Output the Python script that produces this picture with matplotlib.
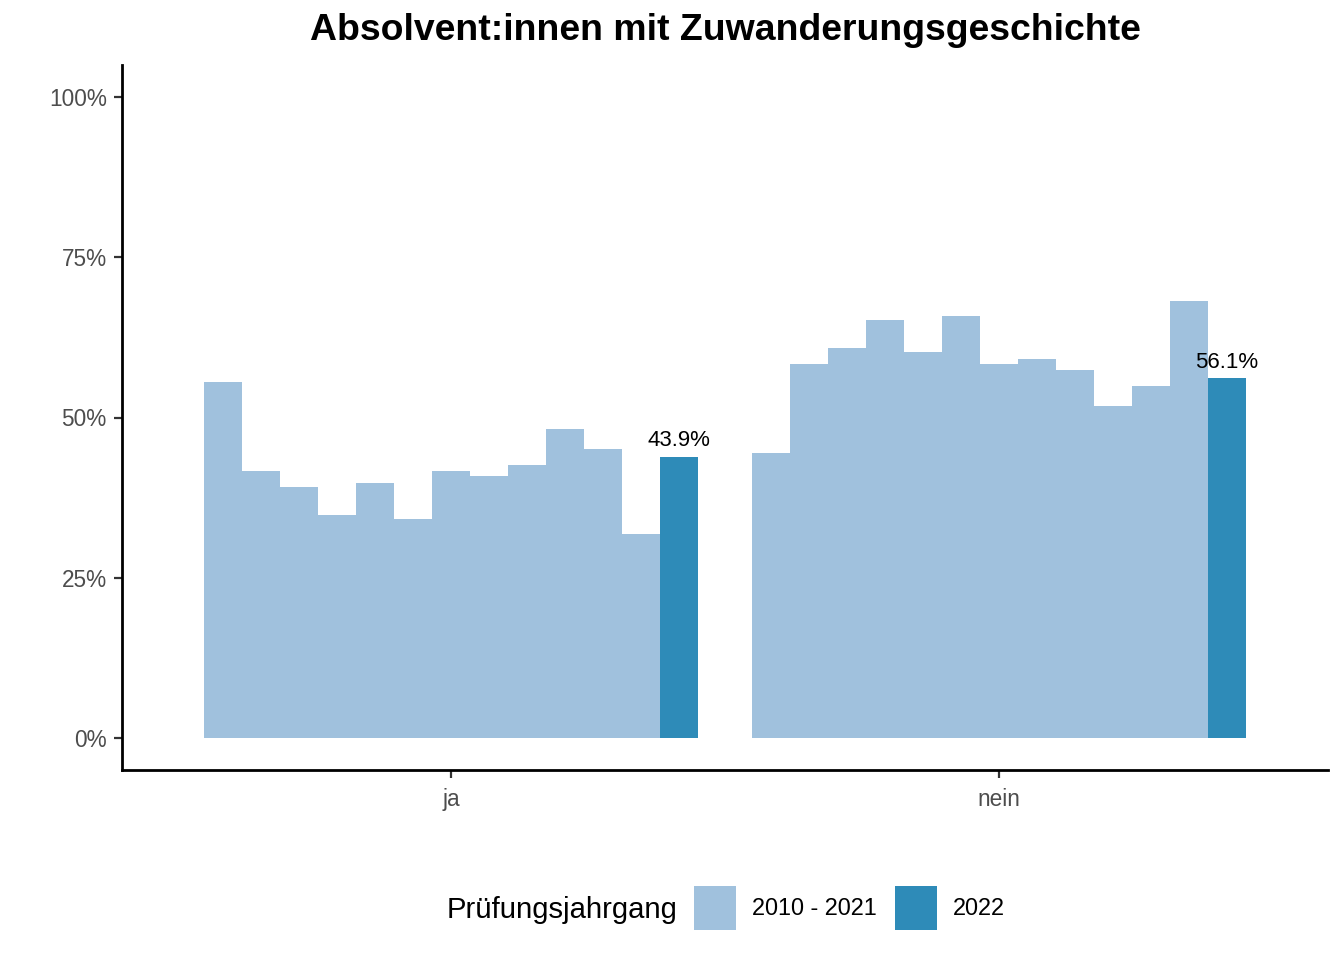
import matplotlib
matplotlib.use("Agg")
import matplotlib.pyplot as plt
from matplotlib.patches import Patch
import numpy as np

plt.rcParams['font.family'] = ['Liberation Sans', 'DejaVu Sans']

categories = ["ja", "nein"]
years = ["2010", "2011", "2012", "2013", "2014", "2015", "2016", "2017",
         "2018", "2019", "2020", "2021", "2022"]
values_ja = [55.6, 41.6, 39.2, 34.8, 39.8, 34.1, 41.7, 40.9, 42.6, 48.2, 45.1, 31.8, 43.9]
values_nein = [44.4, 58.4, 60.8, 65.2, 60.2, 65.9, 58.3, 59.1, 57.4, 51.8, 54.9, 68.2, 56.1]
legend_labels = ["2010 - 2021", "2022"]
ytick_vals = [0, 25, 50, 75, 100]
ytick_labels = ["0%", "25%", "50%", "75%", "100%"]

light = "#A0C1DD"
dark = "#2E8BB8"

fig = plt.figure(figsize=(13.44, 9.6), dpi=100)
ax = fig.add_axes([122/1344, 1-770/960, (1328-122)/1344, (770-65)/960])

n = len(years)
w = 0.9 / n
series = [values_ja, values_nein]
for g, vals in enumerate(series):
    xc = g + 1
    for i, v in enumerate(vals):
        x = xc - 0.45 + w * (i + 0.5)
        col = dark if i == n - 1 else light
        ax.bar(x, v, width=w, color=col, linewidth=0)
        if i == n - 1:
            ax.text(x, v + 0.8, f"{v:.1f}%", ha="center", va="bottom",
                    fontsize=16, color="black")

ax.set_xlim(0.4, 2.6)
ax.set_ylim(-5, 105)
ax.set_xticks([1, 2])
ax.set_xticklabels(categories)
ax.set_yticks(ytick_vals)
ax.set_yticklabels(ytick_labels)
for s in ["top", "right"]:
    ax.spines[s].set_visible(False)
for s in ["left", "bottom"]:
    ax.spines[s].set_linewidth(2)
    ax.spines[s].set_color("black")
ax.tick_params(axis="both", length=6, width=1.6, color="#333333",
               labelsize=16.3, labelcolor="#4D4D4D", pad=5)
ax.tick_params(axis="x", pad=7)

fig.text((122+1328)/2/1344, 1-31/960, "Absolvent:innen mit Zuwanderungsgeschichte",
         ha="center", va="center", fontsize=26.9, fontweight="bold")

fig.text(447/1344, 1-910/960, "Prüfungsjahrgang", ha="left", va="center", fontsize=21.1)
handles = [Patch(facecolor=light, edgecolor="none"), Patch(facecolor=dark, edgecolor="none")]
leg = fig.legend(handles, legend_labels, ncol=2, loc="center left",
                 bbox_to_anchor=(694/1344, 1-908/960), frameon=False,
                 fontsize=16.9, handlelength=1.78, handleheight=2.5,
                 handletextpad=0.68, columnspacing=0.78, borderaxespad=0, borderpad=0)

fig.savefig("out.png", dpi=100)
